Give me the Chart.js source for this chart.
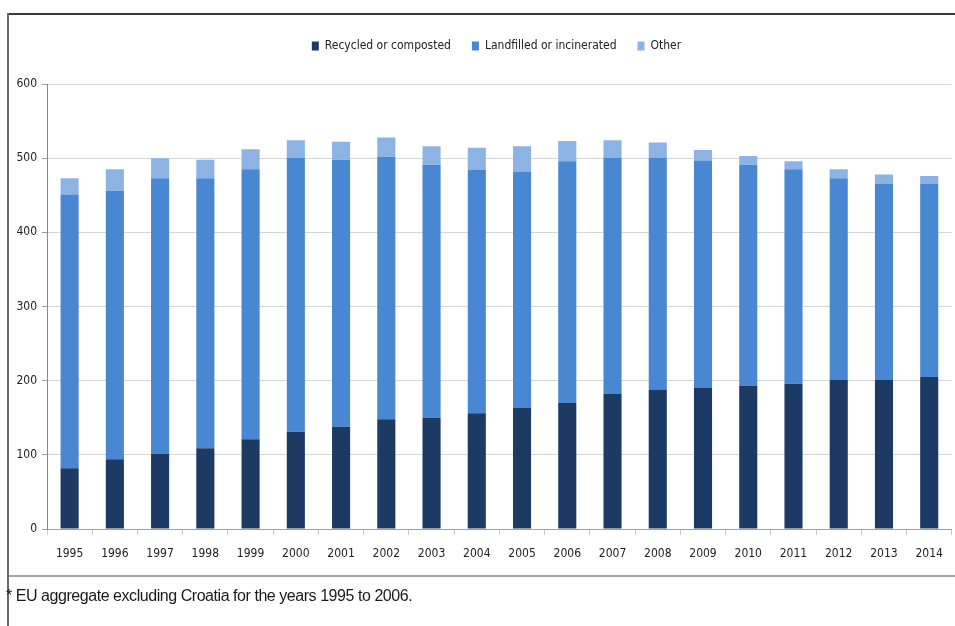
<!DOCTYPE html>
<html>
<head>
<meta charset="utf-8">
<script src="https://cdn.jsdelivr.net/npm/chart.js@4"></script>
<style>
    body { margin: 0; background: #fff; }
    #pagina { position: relative; width: 955px; height: 626px; overflow: hidden; background: #fff; }
    #moldura-topo { position: absolute; left: 7px; top: 13px; width: 948px; height: 2px; background: #3a3a3a; }
    #moldura-esq { position: absolute; left: 7px; top: 13px; width: 2px; height: 613px; background: #6a6a6a; }
    #linha-base { position: absolute; left: 9px; top: 575px; width: 946px; height: 2px; background: #a8a8a8; }
    #caixa-grafico { position: absolute; left: 0; top: 16px; width: 955px; height: 559px; }
    #nota { position: absolute; left: 6px; top: 587px; font-family: "Liberation Sans", Arial, sans-serif;
            font-size: 16px; color: #1a1a1a; letter-spacing: -0.45px; }
</style>
</head>
<body>
<div id="pagina">
    <div id="caixa-grafico"><canvas id="grafico-residuos"></canvas></div>
    <div id="moldura-topo"></div>
    <div id="moldura-esq"></div>
    <div id="linha-base"></div>
    <div id="nota">* EU aggregate excluding Croatia for the years 1995 to 2006.</div>
</div>
<script>
// Dados (kg por habitante)
const anos = ['1995', '1996', '1997', '1998', '1999', '2000', '2001', '2002', '2003', '2004',
              '2005', '2006', '2007', '2008', '2009', '2010', '2011', '2012', '2013', '2014'];
const reciclado = [82, 94, 101, 109, 121, 131, 138, 148, 150, 156,
                   163, 170, 182, 188, 190, 193, 196, 201, 201, 205];
const aterro = [369, 362, 372, 364, 364, 370, 360, 354, 341, 328,
                319, 326, 319, 313, 307, 298, 289, 272, 265, 261];
const outros = [22, 29, 27, 25, 27, 23, 24, 26, 25, 30,
                34, 27, 23, 20, 14, 12, 11, 12, 12, 10];
const ticksY = [0, 100, 200, 300, 400, 500, 600];

const fonteEstreita = "'Liberation Sans Narrow', 'DejaVu Sans Condensed', sans-serif";

// Legenda: espaço extra abaixo e leve deslocamento para a direita
const ajusteLegenda = {
    id: 'ajusteLegenda',
    beforeInit(chart) {
        const legenda = chart.legend;
        const fitOriginal = legenda.fit;
        const drawOriginal = legenda.draw;
        legenda.fit = function () {
            fitOriginal.bind(legenda)();
            this.height += 22;
        };
        legenda.draw = function () {
            chart.ctx.save();
            chart.ctx.translate(20, 0);
            drawOriginal.bind(legenda)();
            chart.ctx.restore();
        };
    }
};

const ctx = document.getElementById('grafico-residuos').getContext('2d');
new Chart(ctx, {
    type: 'bar',
    data: {
        labels: anos,
        datasets: [
            { label: 'Recycled or composted', data: reciclado, backgroundColor: '#1c3a64' },
            { label: 'Landfilled or incinerated', data: aterro, backgroundColor: '#4a87d2' },
            { label: 'Other', data: outros, backgroundColor: '#8db3e4' }
        ]
    },
    options: {
        responsive: true,
        maintainAspectRatio: false,
        animation: false,
        layout: { padding: { top: 3, right: 2, left: 0, bottom: 0 } },
        datasets: { bar: { categoryPercentage: 1, barPercentage: 0.4 } },
        scales: {
            x: {
                stacked: true,
                afterFit: (scale) => { scale.height = 46; },
                border: { color: '#a0a0a0', width: 1 },
                grid: { offset: true, drawOnChartArea: false, drawTicks: true, tickLength: 6, color: '#c8c8c8' },
                ticks: { color: '#222', padding: 12, font: { family: fonteEstreita, size: 12 }, maxRotation: 0 }
            },
            y: {
                stacked: true,
                min: 0,
                max: 600,
                afterFit: (scale) => { scale.width = 47; },
                afterBuildTicks: (scale) => { scale.ticks = ticksY.map(v => ({ value: v })); },
                border: { color: '#8a8a8a', width: 1 },
                grid: { color: '#d6d6d6', tickLength: 5, tickColor: '#a0a0a0' },
                ticks: { color: '#222', padding: 5, font: { family: fonteEstreita, size: 12 } }
            }
        },
        plugins: {
            legend: {
                position: 'top',
                labels: {
                    boxWidth: 7,
                    boxHeight: 9,
                    padding: 21,
                    color: '#222',
                    font: { family: fonteEstreita, size: 12 }
                }
            },
            tooltip: { enabled: false }
        }
    },
    plugins: [ajusteLegenda]
});
</script>
</body>
</html>
